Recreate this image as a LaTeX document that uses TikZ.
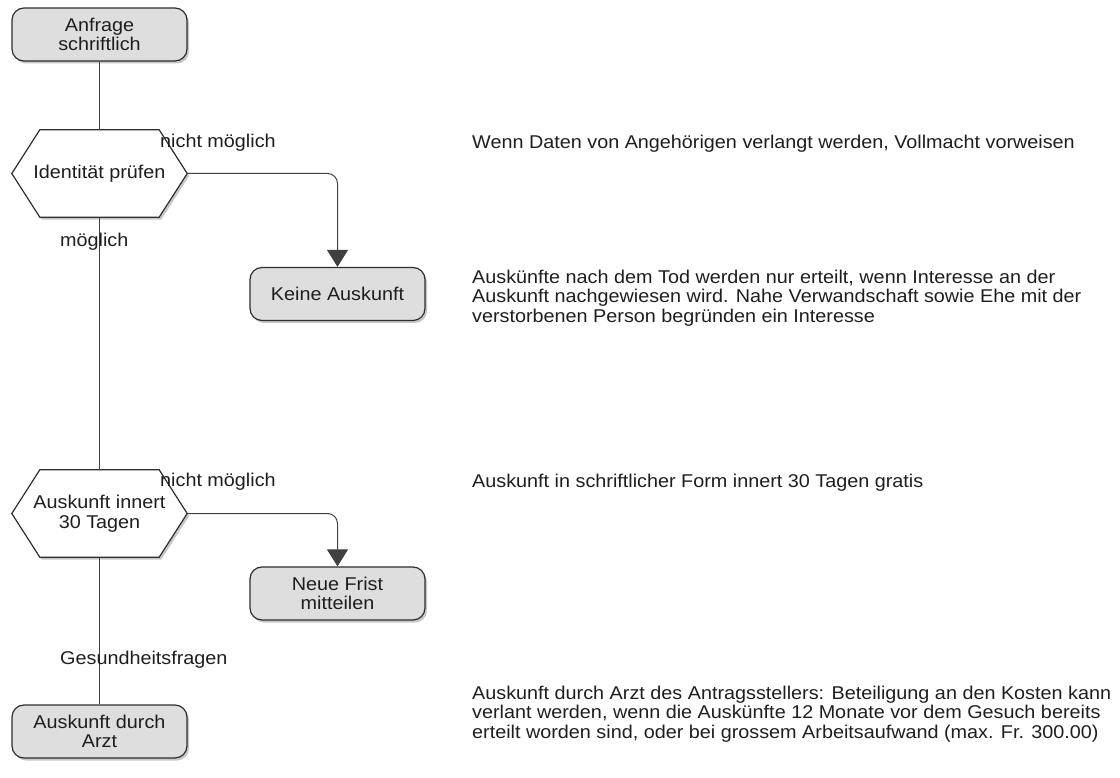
\documentclass[tikz,border=0pt]{standalone}
\usepackage{fontspec}
\setmainfont{Liberation Sans}[FakeStretch=1.07]
\usetikzlibrary{arrows.meta,shadows,backgrounds}
\definecolor{boxfill}{HTML}{DEDEDE}
\definecolor{boxline}{HTML}{2E2E2E}
\definecolor{connc}{HTML}{404040}
\definecolor{txt}{HTML}{1E1E1E}
\begin{document}
\begin{tikzpicture}[x=1pt,y=1pt,
  font=\fontsize{18.5}{19.5}\selectfont, text=txt,
  softshadow/.style={drop shadow={shadow xshift=2pt,shadow yshift=-2.5pt,opacity=0.22,fill=black}},
  term/.style={draw=boxline, line width=1.2pt, fill=boxfill, rounded corners=12pt,
    minimum width=175pt, minimum height=53pt, align=center, inner sep=0pt, softshadow},
  hexbox/.style={minimum width=175pt, minimum height=87pt, align=center, inner sep=0pt},
  hexline/.style={draw=boxline, line width=1.2pt, fill=white, softshadow},
  conn/.style={draw=connc, line width=1pt},
  arr/.style={conn, rounded corners=10pt, -{Triangle[width=21pt,length=17pt]}},
  lbl/.style={anchor=west, inner sep=0pt},
  note/.style={anchor=west, align=left, inner sep=0pt}]
\useasboundingbox (0,0) rectangle (1120,-778);

% nodes
\node[term] (a) at (99.5,-34.5) {Anfrage\\schriftlich};
\node[hexbox] (h1) at (99.5,-173.5) {Identität prüfen};
\node[term] (k) at (337.5,-294) {Keine Auskunft};
\node[hexbox] (h2) at (99.5,-513.5) {Auskunft innert\\30 Tagen};
\node[term] (n) at (337.5,-593.5) {Neue Frist\\mitteilen};
\node[term] (z) at (99.5,-731.5) {Auskunft durch\\Arzt};

% hexagon outlines
\begin{scope}[on background layer]
\foreach \h in {h1,h2}{
  \draw[hexline] ([xshift=28pt]\h.north west) -- ([xshift=-28pt]\h.north east) -- (\h.east)
    -- ([xshift=-28pt]\h.south east) -- ([xshift=28pt]\h.south west) -- (\h.west) -- cycle;
}
\end{scope}

% connectors
\draw[conn] (a.south) -- (h1.north);
\draw[arr] (h1.east) -| (k.north);
\draw[conn] (h1.south) -- (h2.north);
\draw[arr] (h2.east) -| (n.north);
\draw[conn] (h2.south) -- (z.north);

% edge labels
\node[lbl] (l1) at (160,-143) {nicht möglich};
\node[lbl] (l2) at (60,-242) {möglich};
\node[lbl] (l3) at (160,-482) {nicht möglich};
\node[lbl] (l4) at (60,-660) {Gesundheitsfragen};

% notes
\node[note] (t1) at (472,-144) {Wenn Daten von Angehörigen verlangt werden, Vollmacht vorweisen};
\node[note] (t2) at (472,-298) {Auskünfte nach dem Tod werden nur erteilt, wenn Interesse an der\\Auskunft nachgewiesen wird. Nahe Verwandschaft sowie Ehe mit der\\verstorbenen Person begründen ein Interesse};
\node[note] (t3) at (472,-483) {Auskunft in schriftlicher Form innert 30 Tagen gratis};
\node[note] (t4) at (472,-714) {Auskunft durch Arzt des Antragsstellers: Beteiligung an den Kosten kann\\verlant werden, wenn die Auskünfte 12 Monate vor dem Gesuch bereits\\erteilt worden sind, oder bei grossem Arbeitsaufwand (max. Fr. 300.00)};
\end{tikzpicture}
\end{document}
